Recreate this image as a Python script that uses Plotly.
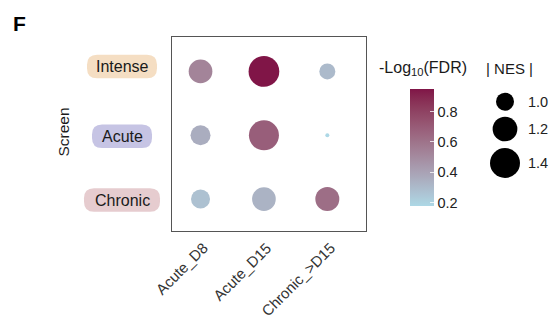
import plotly.graph_objects as go
import numpy as np

# ---------------- data ----------------
screens = ["Chronic", "Acute", "Intense"]          # y categories (bottom -> top)
conditions = ["Acute_D8", "Acute_D15", "Chronic_>D15"]  # x categories
# NES magnitude, rows follow `screens`, columns follow `conditions`
nes = {
    "Intense": [1.165, 1.43, 0.953],
    "Acute":   [1.053, 1.40, 0.786],
    "Chronic": [1.026, 1.165, 1.175],
}
# -log10(FDR)
neglog_fdr = {
    "Intense": [0.53, 0.95, 0.30],
    "Acute":   [0.355, 0.686, 0.177],
    "Chronic": [0.27, 0.33, 0.62],
}
cbar_ticks = [0.2, 0.4, 0.6, 0.8]
nes_legend = [1.0, 1.2, 1.4]
nes_legend_labels = ["1.0", "1.2", "1.4"]

# ---------------- styling ----------------
W, H = 555, 320
FONT = "Liberation Sans, Arial, sans-serif"
LOW, HIGH = "#ADD8E6", "#801547"
SIZE_K, SIZE_OFF = 1440.0, 1116.0   # diameter^2 = K*NES - OFF (area scale)


def size_of(v):
    return float(np.sqrt(max(SIZE_K * v - SIZE_OFF, 1.0)))


def hex2rgb(h):
    h = h.lstrip("#")
    return [int(h[i:i + 2], 16) / 255 for i in (0, 2, 4)]


def to_lin(c):
    return c / 12.92 if c <= 0.04045 else ((c + 0.055) / 1.055) ** 2.4


def from_lin(c):
    return 12.92 * c if c <= 0.0031308 else 1.055 * c ** (1 / 2.4) - 0.055


M = np.array([[0.4124, 0.3576, 0.1805], [0.2126, 0.7152, 0.0722], [0.0193, 0.1192, 0.9505]])
WHITE = M @ np.ones(3)


def f(t):
    return t ** (1 / 3) if t > 216 / 24389 else (24389 / 27 * t + 16) / 116


def finv(t):
    return t ** 3 if t ** 3 > 216 / 24389 else (116 * t - 16) / (24389 / 27)


def rgb2lab(rgb):
    xyz = M @ np.array([to_lin(c) for c in rgb]) / WHITE
    fx, fy, fz = (f(v) for v in xyz)
    return np.array([116 * fy - 16, 500 * (fx - fy), 200 * (fy - fz)])


def lab2rgb(lab):
    L, a, b = lab
    fy = (L + 16) / 116
    fx = fy + a / 500
    fz = fy - b / 200
    xyz = np.array([finv(fx), finv(fy), finv(fz)]) * WHITE
    rgb = np.linalg.solve(M, xyz)
    rgb = [min(max(from_lin(max(c, 0)), 0), 1) for c in rgb]
    return "rgb(%d,%d,%d)" % tuple(round(c * 255) for c in rgb)


la, lb = rgb2lab(hex2rgb(LOW)), rgb2lab(hex2rgb(HIGH))
colorscale = [[t, lab2rgb(la + (lb - la) * t)] for t in np.linspace(0, 1, 21)]

xs, ys, cs, ss = [], [], [], []
for s in screens:
    for j, c in enumerate(conditions):
        xs.append(c)
        ys.append(s)
        cs.append(neglog_fdr[s][j])
        ss.append(size_of(nes[s][j]))
cmin, cmax = min(cs), max(cs)

# layout in pixels
PX0, PX1, PY0, PY1 = 172, 366, 37, 231
CB_X, CB_W, CB_TOP, CB_BOT = 410, 24, 89, 206

fig = go.Figure()
fig.add_trace(go.Scatter(
    x=xs, y=ys, mode="markers", showlegend=False, hoverinfo="skip",
    marker=dict(size=ss, sizemode="diameter", color=cs, colorscale=colorscale,
                cmin=cmin, cmax=cmax, line=dict(width=0), opacity=1,
                colorbar=dict(x=CB_X / W, xanchor="left", xpad=0,
                              y=1 - (CB_TOP + CB_BOT) / 2 / H, yanchor="middle", ypad=0,
                              len=CB_BOT - CB_TOP, lenmode="pixels", thickness=CB_W,
                              thicknessmode="pixels", outlinewidth=0,
                              tickvals=cbar_ticks, ticktext=[f"{v:.1f}" for v in cbar_ticks],
                              ticks="inside", ticklen=4, tickwidth=1,
                              tickcolor="rgba(255,255,255,0.75)",
                              tickfont=dict(family=FONT, size=14.5, color="#222"))),
))

# NES size legend on a pixel overlay axis
leg_y = [101.7, 129, 163]
fig.add_trace(go.Scatter(
    x=[505] * len(nes_legend), y=leg_y, xaxis="x2", yaxis="y2", mode="markers",
    marker=dict(size=[size_of(v) for v in nes_legend], sizemode="diameter",
                color="black", opacity=1, line=dict(width=0)),
    showlegend=False, hoverinfo="skip", cliponaxis=False))
for lbl, yy in zip(nes_legend_labels, leg_y):
    fig.add_annotation(x=526 / W, y=1 - yy / H, xref="paper", yref="paper", text=lbl,
                       showarrow=False, xanchor="left", yanchor="middle",
                       font=dict(family=FONT, size=14.5, color="#222"))

fig.update_layout(
    width=W, height=H, margin=dict(l=0, r=0, t=0, b=0, autoexpand=False),
    paper_bgcolor="white", plot_bgcolor="rgba(0,0,0,0)",
    xaxis=dict(domain=[PX0 / W, PX1 / W], type="category", categoryorder="array",
               categoryarray=conditions, range=[-0.45, 2.61], showgrid=False, zeroline=False,
               showline=True, mirror=True, linecolor="#555", linewidth=1, ticks="",
               showticklabels=False),
    yaxis=dict(domain=[1 - PY1 / H, 1 - PY0 / H], type="category", categoryorder="array",
               categoryarray=screens, range=[-0.5, 2.54], showgrid=False, zeroline=False,
               showline=True, mirror=True, linecolor="#555", linewidth=1, ticks="",
               showticklabels=False),
    xaxis2=dict(domain=[0, 1], range=[0, W], visible=False, anchor="y2"),
    yaxis2=dict(domain=[0, 1], range=[H, 0], visible=False, anchor="x2"),
)

# rotated x tick labels (top-right corner hangs just below the axis)
for c in conditions:
    fig.add_annotation(x=c, y=1 - 238 / H, xref="x", yref="paper", text=c, showarrow=False,
                       textangle=-45, xanchor="right", yanchor="top", xshift=12,
                       borderpad=0, font=dict(family=FONT, size=15, color="#333"))

# colorbar left-side tick dashes
for v in cbar_ticks:
    py = CB_BOT - (v - cmin) / (cmax - cmin) * (CB_BOT - CB_TOP)
    fig.add_shape(type="line", xref="paper", yref="paper", x0=CB_X / W, x1=(CB_X + 4) / W,
                  y0=1 - py / H, y1=1 - py / H, line=dict(color="rgba(255,255,255,0.75)", width=1))

# pill labels for screens
pill_fill = {"Intense": "#F5DEC3", "Acute": "#C6C4E4", "Chronic": "#E6CCCF"}
pill_w = {"Intense": 70, "Acute": 60, "Chronic": 76}
pill_shift = {"Intense": 5, "Acute": -1, "Chronic": -1}
PILL_CX, PILL_H, PILL_R = 122, 23.5, 10
unit_px = (PY1 - PY0) / (2.54 + 0.5)
for i, s in enumerate(screens):
    cy = i + pill_shift[s] / unit_px
    hy = PILL_H / 2 / unit_px
    ry = PILL_R / unit_px
    x0 = (PILL_CX - pill_w[s] / 2) / W
    x1 = (PILL_CX + pill_w[s] / 2) / W
    rx = PILL_R / W
    y0, y1 = cy - hy, cy + hy
    path = (f"M {x0+rx},{y0} L {x1-rx},{y0} Q {x1},{y0} {x1},{y0+ry} L {x1},{y1-ry} "
            f"Q {x1},{y1} {x1-rx},{y1} L {x0+rx},{y1} Q {x0},{y1} {x0},{y1-ry} "
            f"L {x0},{y0+ry} Q {x0},{y0} {x0+rx},{y0} Z")
    fig.add_shape(type="path", path=path, xref="paper", yref="y",
                  fillcolor=pill_fill[s], line=dict(width=0), layer="below")
    fig.add_annotation(x=PILL_CX / W, y=s, xref="paper", yref="y", text=s, showarrow=False,
                       yshift=pill_shift[s], xanchor="center", yanchor="middle",
                       font=dict(family=FONT, size=16, color="#1a1a1a"))

fig.add_annotation(x=63 / W, y=1 - 132.5 / H, xref="paper", yref="paper", text="Screen",
                   textangle=-90, showarrow=False, xanchor="center", yanchor="middle",
                   font=dict(family=FONT, size=15.5, color="#1a1a1a"))
fig.add_annotation(x=11 / W, y=1 - 23.5 / H, xref="paper", yref="paper", text="<b>F</b>",
                   xanchor="left", yanchor="middle", showarrow=False,
                   font=dict(family=FONT, size=21, color="black"))
fig.add_annotation(x=422.5 / W, y=1 - 69 / H, xref="paper", yref="paper",
                   text="-Log<sub>10</sub>(FDR)", showarrow=False, xanchor="center", yanchor="middle",
                   font=dict(family=FONT, size=16, color="#1a1a1a"))
fig.add_annotation(x=509.5 / W, y=1 - 69 / H, xref="paper", yref="paper",
                   text="| NES |", showarrow=False, xanchor="center", yanchor="middle",
                   font=dict(family=FONT, size=15, color="#1a1a1a"))

fig.write_html("out.html", config={"displayModeBar": False},
               post_script="document.body.style.margin='0';")
